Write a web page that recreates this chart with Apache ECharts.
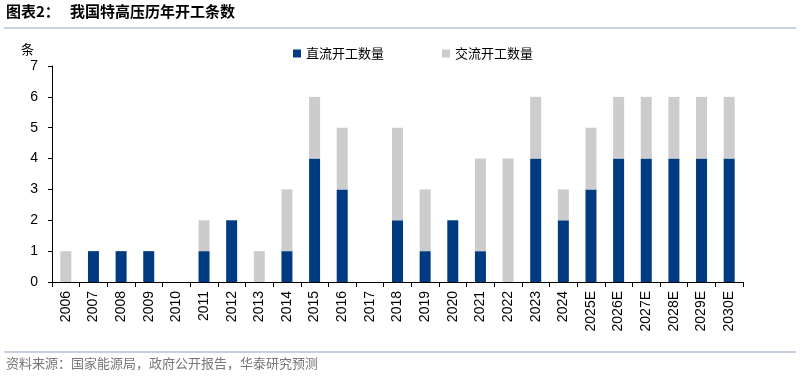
<!DOCTYPE html>
<html>
<head>
<meta charset="utf-8">
<script src="https://cdn.jsdelivr.net/npm/echarts@6/dist/echarts.min.js"></script>
<style>
  html, body { margin: 0; padding: 0; background: #fff; }
  #chart { width: 800px; height: 377px; }
</style>
</head>
<body>
<div id="chart"></div>
<script>
// 年份
var years = ["2006", "2007", "2008", "2009", "2010", "2011", "2012", "2013", "2014", "2015",
  "2016", "2017", "2018", "2019", "2020", "2021", "2022", "2023", "2024", "2025E",
  "2026E", "2027E", "2028E", "2029E", "2030E"];
// 直流开工数量
var dcCount = [0, 1, 1, 1, 0, 1, 2, 0, 1, 4, 3, 0, 2, 1, 2, 1, 0, 4, 2, 3, 4, 4, 4, 4, 4];
// 交流开工数量
var acCount = [1, 0, 0, 0, 0, 1, 0, 1, 2, 2, 2, 0, 3, 2, 0, 3, 4, 2, 1, 2, 2, 2, 2, 2, 2];

var chart = echarts.init(document.getElementById("chart"));
var option = {
  animation: false,
  textStyle: { fontFamily: "Liberation Sans, Noto Sans CJK SC" },
  graphic: [
    {
      type: "text", left: 6, top: 4,
      style: { text: "图表2：", font: "bold 15px 'Noto Sans CJK SC'", fill: "#000" }
    },
    {
      type: "text", left: 70, top: 4,
      style: { text: "我国特高压历年开工条数", font: "bold 15px 'Noto Sans CJK SC'", fill: "#000" }
    },
    {
      type: "line", shape: { x1: 4, y1: 28, x2: 796, y2: 28 },
      style: { stroke: "#8EA3BE", lineWidth: 1 }
    },
    {
      type: "line", shape: { x1: 4, y1: 352, x2: 796, y2: 352 },
      style: { stroke: "#8EA3BE", lineWidth: 1 }
    },
    {
      type: "text", left: 6, top: 357,
      style: { text: "资料来源：国家能源局，政府公开报告，华泰研究预测", font: "13px 'Noto Sans CJK SC'", fill: "#777" }
    }
  ],
  legend: {
    top: 42,
    left: 288,
    itemWidth: 8,
    itemHeight: 8,
    itemGap: 58,
    icon: "rect",
    textStyle: { fontSize: 13, color: "#000", fontFamily: "Noto Sans CJK SC" },
    data: ["直流开工数量", "交流开工数量"]
  },
  grid: { left: 52, right: 57, top: 66, bottom: 95 },
  xAxis: {
    type: "category",
    data: years,
    axisLine: { lineStyle: { color: "#000", width: 1 } },
    axisTick: { show: true, alignWithLabel: false, length: 5, lineStyle: { color: "#000" } },
    axisLabel: { rotate: 90, color: "#000", fontSize: 14, margin: 9, interval: 0 }
  },
  yAxis: {
    type: "value",
    name: "条",
    nameLocation: "end",
    nameGap: 10,
    nameTextStyle: { color: "#000", fontSize: 13, fontFamily: "Noto Sans CJK SC", align: "right", padding: [0, 18, 0, 0] },
    min: 0,
    max: 7,
    interval: 1,
    axisLine: { show: true, lineStyle: { color: "#000", width: 1 } },
    axisTick: { show: true, length: 4, lineStyle: { color: "#000" } },
    axisLabel: { color: "#000", fontSize: 14, margin: 14 },
    splitLine: { show: false }
  },
  series: [
    {
      name: "直流开工数量",
      type: "bar",
      stack: "total",
      barWidth: 11,
      itemStyle: { color: "#003A80" },
      data: dcCount
    },
    {
      name: "交流开工数量",
      type: "bar",
      stack: "total",
      barWidth: 11,
      itemStyle: { color: "#CCCCCC" },
      data: acCount
    }
  ]
};
chart.setOption(option);
</script>
</body>
</html>
